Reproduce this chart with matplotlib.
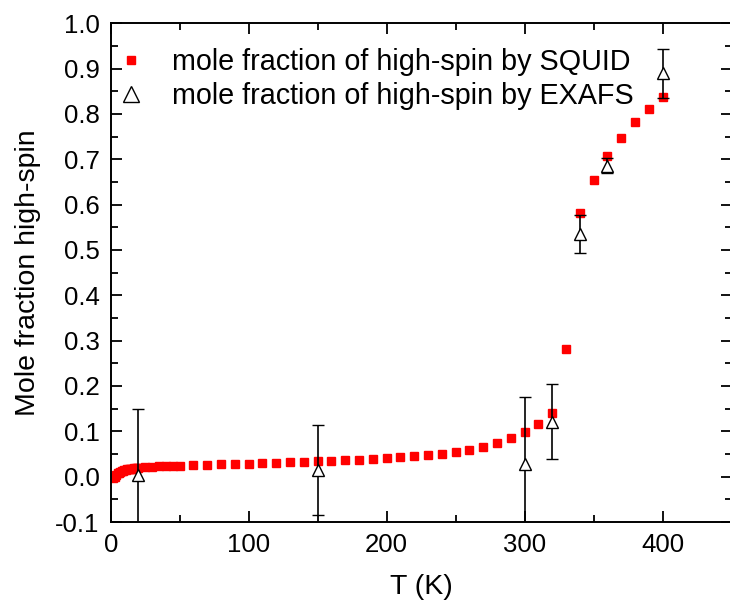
import matplotlib

matplotlib.use("Agg")
import matplotlib.pyplot as plt
from matplotlib.lines import Line2D
from matplotlib.ticker import MultipleLocator

# SQUID: mole fraction of high-spin vs T
T_squid = [2, 3, 4, 5, 6, 7, 8, 9, 10, 11, 12, 13, 14, 15, 16, 17, 18, 19,
           20, 25, 30, 35, 40, 45, 50,
           60, 70, 80, 90, 100, 110, 120, 130, 140, 150, 160, 170, 180, 190,
           200, 210, 220, 230, 240, 250, 260, 270, 280, 290, 300, 310, 320,
           330, 340, 350, 360, 370, 380, 390, 400]
x_squid = [-0.004, 0.0, 0.004, 0.007, 0.009, 0.011, 0.012, 0.013, 0.014, 0.015,
           0.016, 0.0165, 0.017, 0.0175, 0.018, 0.0185, 0.019, 0.0195,
           0.020, 0.021, 0.022, 0.0225, 0.023, 0.0235, 0.024,
           0.025, 0.026, 0.027, 0.028, 0.029, 0.030, 0.031, 0.032, 0.033, 0.034,
           0.035, 0.036, 0.0375, 0.039,
           0.041, 0.043, 0.045, 0.047, 0.050, 0.0545, 0.059, 0.0655, 0.074, 0.086,
           0.099, 0.117, 0.140,
           0.282, 0.582, 0.655, 0.707, 0.748, 0.782, 0.812, 0.837]

# EXAFS: mole fraction with error bars
T_exafs = [20, 150, 300, 320, 340, 360, 400]
x_exafs = [0.004, 0.015, 0.028, 0.121, 0.535, 0.686, 0.89]
err_exafs = [0.145, 0.10, 0.148, 0.083, 0.042, 0.017, 0.054]

plt.rcParams.update({
    "font.family": ["Liberation Sans", "DejaVu Sans"],
    "font.size": 18.5,
})

W, H = 730, 606
fig = plt.figure(figsize=(W / 100, H / 100), dpi=100)
L, R, TOP, BOT = 110.7, 731.5, 23.3, 522.0
ax = fig.add_axes([L / W, 1 - BOT / H, (R - L) / W, (BOT - TOP) / H])

ax.plot(T_squid, x_squid, ls="none", marker="s", ms=5.2, color="#ff0000",
        mec="#ff0000", zorder=2)
ax.errorbar(T_exafs, x_exafs, yerr=err_exafs, fmt="^", ms=9, mfc="white",
            mec="black", mew=1.0, ecolor="black", elinewidth=1.2, capsize=4.2,
            capthick=1.2, zorder=3)

ax.set_xlim(0, 450)
ax.set_ylim(-0.1, 1.0)
ax.xaxis.set_major_locator(MultipleLocator(100))
ax.xaxis.set_minor_locator(MultipleLocator(50))
ax.yaxis.set_major_locator(MultipleLocator(0.1))
ax.yaxis.set_minor_locator(MultipleLocator(0.05))
ax.yaxis.set_major_formatter(plt.FuncFormatter(lambda v, p: f"{v:.1f}"))
ax.tick_params(which="both", direction="in", top=True, right=True, width=1.3)
ax.tick_params(which="major", length=8, pad=8)
ax.tick_params(which="minor", length=5)
for s in ax.spines.values():
    s.set_linewidth(1.4)

ax.set_xlabel("T (K)", fontsize=20.5, labelpad=12)
ax.set_ylabel("Mole fraction high-spin", fontsize=20.5, labelpad=10)

# legend shows plain markers (no error bar on the EXAFS entry)
leg_handles = [
    Line2D([], [], ls="none", marker="s", ms=6, color="#ff0000"),
    Line2D([], [], ls="none", marker="^", ms=11, mfc="white", mec="black", mew=1.0),
]
leg_labels = ["mole fraction of high-spin by SQUID",
              "mole fraction of high-spin by EXAFS"]
ax.legend(leg_handles, leg_labels, loc="upper left", bbox_to_anchor=(0.005, 0.961),
          frameon=False, fontsize=20.7, handletextpad=1.03, handlelength=0.8,
          borderaxespad=0.0, borderpad=0.2, labelspacing=0.2)

fig.savefig("out.png", dpi=100)
